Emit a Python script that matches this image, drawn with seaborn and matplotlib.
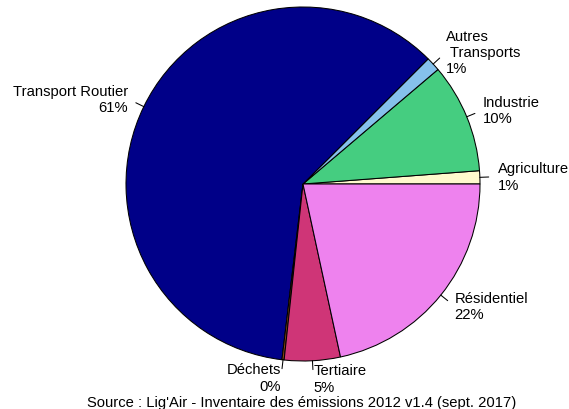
import numpy as np
import matplotlib.pyplot as plt
import seaborn as sns

sns.set_theme(style="white")
plt.rcParams['font.family'] = ['Liberation Sans', 'DejaVu Sans']

# secteurs, dans l'ordre du tracé (sens anti-horaire depuis 3h)
secteurs = ["Agriculture", "Industrie", "Autres\n Transports", "Transport Routier",
            "Déchets", "Tertiaire", "Résidentiel"]
parts = [1.2, 10.0, 1.3, 60.6, 0.2, 5.1, 21.6]
pourcent = ["1%", "10%", "1%", "61%", "0%", "5%", "22%"]
couleurs = ["#FFFACD", "#45CD80", "#85C1EC", "#000088", "#8B4513", "#CF3577", "#EE82EE"]

source = "Source : Lig'Air - Inventaire des émissions 2012 v1.4 (sept. 2017)"

W, H = 569, 410
cx, cy, r = 303, 185, 177

fig = plt.figure(figsize=(W / 100, H / 100), dpi=100)
ax = fig.add_axes([0, 0, 1, 1])

ax.pie(parts, colors=couleurs, startangle=0, counterclock=True, radius=1,
       wedgeprops=dict(edgecolor="black", linewidth=0.75))

# pie() impose ses propres limites : on les remet après
ax.set_aspect("auto")
ax.set_xlim(-cx / r, (W - cx) / r)
ax.set_ylim(-(H - cy) / r, cy / r)
ax.axis("off")

# étiquettes et petits traits façon R
fracs = np.array(parts) / sum(parts)
bornes = np.concatenate([[0], np.cumsum(fracs)]) * 2 * np.pi
for nom, pc, a0, a1 in zip(secteurs, pourcent, bornes[:-1], bornes[1:]):
    m = (a0 + a1) / 2
    c, s = np.cos(m), np.sin(m)
    ax.plot([c, 1.05 * c], [s, 1.05 * s], color="black", lw=0.75)
    ax.text(1.1 * c, 1.1 * s, nom + "\n" + pc, ha="left" if c > 0 else "right",
            va="center", fontsize=10.6, linespacing=1.22, color="black")

fig.text(0.53, 0.0, source, ha="center", va="bottom", fontsize=10.6, color="black")

fig.savefig("out.png", dpi=100)
